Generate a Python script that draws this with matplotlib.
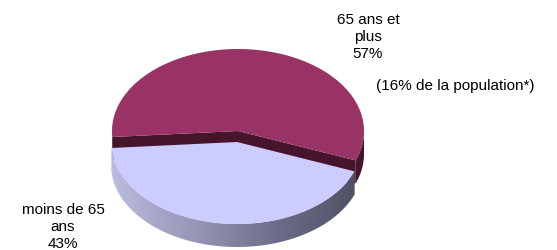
import numpy as np
import matplotlib.pyplot as plt
from matplotlib.patches import Polygon
from matplotlib.colors import LinearSegmentedColormap

labels = ['65 ans et\nplus\n57%', 'moins de 65\nans\n43%']
shares = [57, 43]
note = '(16% de la population*)'

top_colors = ['#993366', '#ccccff']
side_colors = ['#45152c', '#8a8aa8']

plt.rcParams['font.family'] = ['Liberation Sans', 'DejaVu Sans']

fig = plt.figure(figsize=(5.57, 2.51), dpi=100)
ax = fig.add_axes([0, 0, 1, 1])
ax.set_xlim(0, 557)
ax.set_ylim(251, 0)
ax.axis('off')

# pie geometry in pixels
cx, cy, rx, ry, depth = 237, 143, 126, 82, 23
start = -21
explode = [(1, -11), (0, 0)]
label_pos = [(368, 37), (63, 227)]


def rim(a, ox, oy, dz=0.0):
    t = np.radians(a)
    return np.column_stack([cx + ox + rx * np.cos(t), cy + oy - ry * np.sin(t) + dz])


side_cmap = LinearSegmentedColormap.from_list(
    'side', ['#bcbce0', '#9696b6', '#6c6c88', '#4e4e62'])

bounds = np.concatenate([[0], np.cumsum(shares)]) / sum(shares) * 360 + start
slices = []
for i in range(len(shares)):
    a0, a1 = bounds[i], bounds[i + 1]
    mid = np.radians((a0 + a1) / 2)
    slices.append((np.sin(mid), i, a0, a1))
slices.sort(reverse=True)  # back slices first

for _, i, a0, a1 in slices:
    ox, oy = explode[i]
    apex = np.array([[cx + ox, cy + oy]])
    # radial cut faces
    for a, n in ((a0, a0 - 90), (a1, a1 + 90)):
        if np.sin(np.radians(n)) < 0:
            p = rim(np.array([a]), ox, oy)
            pts = np.vstack([apex, p, p + [0, depth], apex + [0, depth]])
            ax.add_patch(Polygon(pts, closed=True, fc=side_colors[i], ec='none', zorder=1))
    # outer side, front-facing parts only
    angs = np.linspace(a0, a1, 400)
    vis = np.sin(np.radians(angs)) <= 0
    runs = []
    cur = []
    for a, v in zip(angs, vis):
        if v:
            cur.append(a)
        elif cur:
            runs.append(cur)
            cur = []
    if cur:
        runs.append(cur)
    for run in runs:
        if len(run) < 2:
            continue
        run = np.array(run)
        topp = rim(run, ox, oy)
        bot = rim(run[::-1], ox, oy, depth)
        pts = np.vstack([topp, bot])
        if i == 0:
            ax.add_patch(Polygon(pts, closed=True, fc=side_colors[0], ec='none', zorder=1))
        else:
            poly = Polygon(pts, closed=True, fc='none', ec='none', zorder=1)
            ax.add_patch(poly)
            grad = np.linspace(0, 1, 256).reshape(1, -1)
            im = ax.imshow(grad, cmap=side_cmap, aspect='auto',
                           extent=[cx - rx, cx + rx, cy + ry + depth + 5, cy - ry - 5],
                           zorder=1)
            im.set_clip_path(poly)
    # top face
    arc = rim(np.linspace(a0, a1, 400), ox, oy)
    ax.add_patch(Polygon(np.vstack([apex, arc]), closed=True, fc=top_colors[i],
                         ec='none', zorder=2))
    ax.set_xlim(0, 557)
    ax.set_ylim(251, 0)

for i, lab in enumerate(labels):
    ax.text(label_pos[i][0], label_pos[i][1], lab, ha='center', va='center',
            multialignment='center', fontsize=11, linespacing=1.3, color='black')
ax.text(455, 86, note, ha='center', va='center', fontsize=11, color='black')

fig.savefig('out.png', dpi=100)
